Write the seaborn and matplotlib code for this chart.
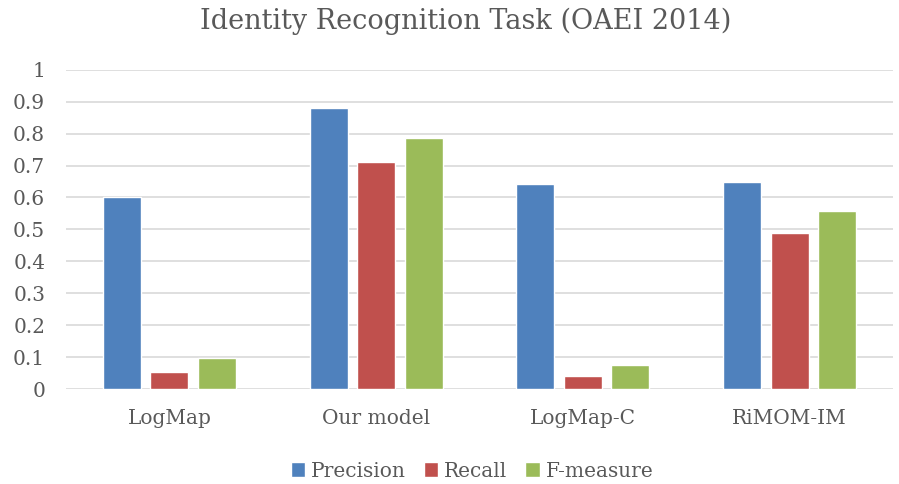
import pandas as pd
import matplotlib
matplotlib.use("Agg")
import matplotlib.pyplot as plt
import seaborn as sns

# values
systems = ["LogMap", "Our model", "LogMap-C", "RiMOM-IM"]
metrics = ["Precision", "Recall", "F-measure"]
precision = [0.602, 0.880, 0.641, 0.647]
recall = [0.053, 0.711, 0.041, 0.488]
f_measure = [0.099, 0.787, 0.077, 0.557]
y_ticks = [0, 0.1, 0.2, 0.3, 0.4, 0.5, 0.6, 0.7, 0.8, 0.9, 1]
y_tick_labels = ["0", "0.1", "0.2", "0.3", "0.4", "0.5", "0.6", "0.7", "0.8", "0.9", "1"]

colors = ["#4F81BD", "#C0504D", "#9BBB59"]
text_color = "#595959"

df = pd.DataFrame({
    "system": systems * 3,
    "metric": [m for m in metrics for _ in systems],
    "value": precision + recall + f_measure,
})

sns.set_theme(style="white")
plt.rcParams["font.family"] = ["DejaVu Serif"]

fig = plt.figure(figsize=(8.99, 4.84), dpi=100)
ax = fig.add_axes([0.0734, 0.196, 0.92, 0.66])

sns.barplot(data=df, x="system", y="value", hue="metric", order=systems,
            hue_order=metrics, palette=colors, width=0.69, gap=0.2,
            saturation=1, errorbar=None, ax=ax, zorder=3)

ax.set_ylim(0, 1)
ax.set_yticks(y_ticks)
ax.set_yticklabels(y_tick_labels)
ax.set_xlim(-0.5, len(systems) - 0.5)
ax.grid(axis="y", color="#D9D9D9", linewidth=1.2, zorder=0)
ax.set_axisbelow(True)
for s in ax.spines.values():
    s.set_visible(False)
ax.tick_params(axis="both", length=0, colors=text_color, labelsize=14.5)
ax.tick_params(axis="y", pad=15)
ax.tick_params(axis="x", pad=14)
ax.set_xlabel("")
ax.set_ylabel("")

# chart title, centred on the whole chart area like the original
fig.text(466 / 899, 1 - 21 / 484, "Identity Recognition Task (OAEI 2014)",
         fontsize=19.5, color=text_color, ha="center", va="center")

leg = ax.legend(loc="upper center", bbox_to_anchor=(0.491, -0.17), ncol=3,
                frameon=False, fontsize=14.5, handlelength=0.7, handleheight=0.7,
                handletextpad=0.3, columnspacing=0.9)
for t in leg.get_texts():
    t.set_color(text_color)

fig.savefig("out.png", dpi=100)
